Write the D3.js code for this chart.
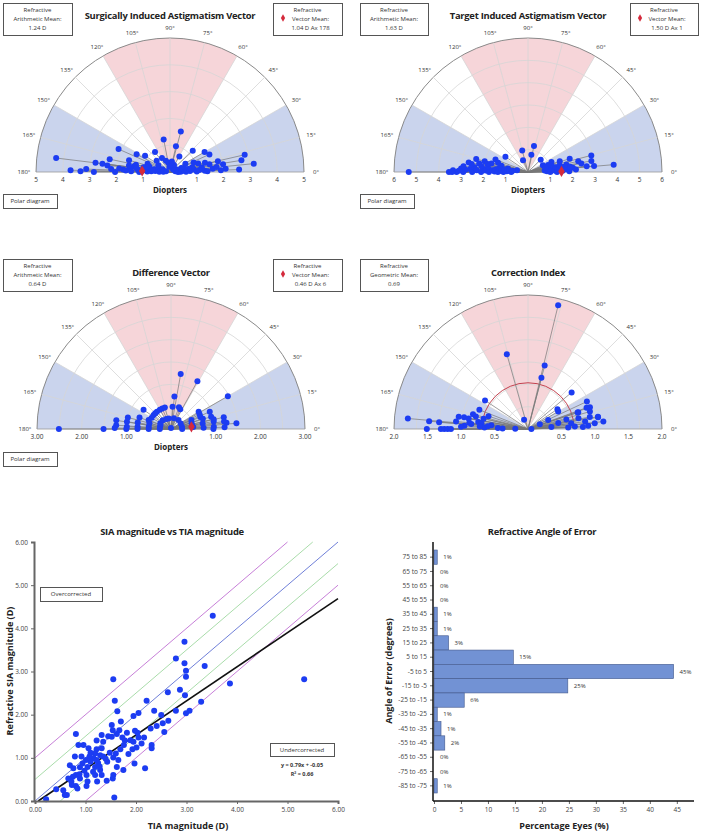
<!DOCTYPE html>
<html>
<head>
<meta charset="utf-8">
<script src="https://cdn.jsdelivr.net/npm/d3@7"></script>
<style>
body { margin: 0; background: #fff; }
text { font-family: "Open Sans", sans-serif; fill: #333; }
.title { font-weight: bold; font-size: 9.4px; letter-spacing: -0.25px; fill: #222; text-anchor: middle; }
.axisTitle { font-weight: bold; font-size: 9px; fill: #222; text-anchor: middle; }
.small { font-size: 6px; fill: #333; }
.tick text { font-size: 6.5px; fill: #444; font-family: "Open Sans", sans-serif; }
.box { fill: #fff; stroke: #555; stroke-width: 1; }
</style>
</head>
<body>
<svg id="chart" width="702" height="837"></svg>
<script>
// ---- polar data: [magnitude, axis in degrees]
var siaPoints = [[4.28,173],[3.71,179],[3.34,179.5],[3.13,178],[2.84,180],[2.80,173],[2.54,173],[2.35,174],[2.30,168],[2.05,180],
  [2.10,156],[1.75,177],[1.59,164],[1.35,171],[1.41,152],[1.15,180],[1.11,147],[0.89,160],[0.93,127],[1.24,101],
  [1.9,176],[1.65,178],[1.5,175],[1.45,179],[1.2,176],[1.05,178],[0.95,175],[0.85,179],[0.75,172],[0.7,178],
  [0.6,170],[0.55,176],[0.45,165],[0.4,178],[0.35,170],[0.3,160],[0.25,178],[0.5,150],[0.65,140],[0.8,165],
  [1.3,168],[1.0,170],[0.9,168],[0.6,120],[0.45,110],[0.35,100],
  [1.56,75],[0.99,77],[0.68,59],[1.16,43],[1.49,30],[1.61,24],[2.86,13],[3.14,5.7],[2.70,9.3],[2.58,2],
  [2.08,3.4],[2.0,8.3],[1.83,12.6],[1.60,4.5],[1.3,2],[1.2,8],[1.1,4],[1.0,1],[0.9,6],[0.85,12],
  [0.75,3],[0.7,9],[0.6,1],[0.55,14],[0.5,5],[0.45,20],[0.4,2],[0.35,10],[0.3,0],[0.25,25],
  [0.2,8],[0.15,40],[0.3,60],[0.4,80],[0.2,95],[1.4,1],[1.75,6],[1.9,2],[1.5,11],[1.35,15],
  [1.1,17],[0.95,22],[0.65,28],[1.25,174],[1.55,171],[2.2,177],[0.65,174],[0.15,170]];
var tiaPoints = [[5.34,180],[3.54,180],[3.36,178.7],[3.0,177],[2.69,171],[2.39,166],[2.22,170],[2.0,166],[1.68,167],[1.56,159],
  [1.22,146],[1.22,167],[0.91,170],[0.5,171],[3.2,180],[3.1,179],[2.9,180],[2.8,178],[2.6,177],[2.5,180],
  [2.4,175],[2.3,178],[2.1,180],[2.0,176],[1.9,178],[1.8,174],[1.75,180],[1.6,177],[1.5,179],[1.45,175],
  [1.35,180],[1.3,172],[1.2,178],[1.1,180],[1.05,174],[0.95,178],[0.85,176],[0.75,180],[0.7,175],[2.55,172],
  [2.1,173],[1.85,169],[1.4,163],[2.9,175],[3.4,180],
  [1.0,105],[0.57,113],[0.79,79],[1.19,77],
  [0.79,44],[0.73,24],[1.14,23],[1.5,18.6],[1.96,17.7],[2.42,9],[2.93,14.7],[2.88,9.9],[2.97,5.2],[3.85,4.9],
  [2.02,5.5],[2.64,5.6],[0.75,5],[0.85,2],[0.9,10],[1.0,0],[1.05,7],[1.1,14],[1.2,3],[1.25,10],
  [1.3,0],[1.4,5],[1.45,12],[1.55,2],[1.6,8],[1.7,4],[1.75,11],[1.85,1],[1.9,7],[2.15,3],
  [2.3,12],[0.95,19],[0.8,15]];
var diffPoints = [[2.51,180],[1.51,180],[1.24,171],[1.23,176],[1.26,179],[1.0,170.5],[0.99,177],[0.76,169],[0.75,176],[0.75,145],
  [0.54,158],[0.50,174],[0.50,141],[0.50,129],[0.50,113],[0.50,106],[0.27,152],[0.27,133],[0.24,102],[0.02,90],
  [0.50,86],[0.73,84],[1.25,80],[1.22,61],[0.49,65],[0.26,50],[0.25,12],[0.5,24],[0.48,11],[0.73,32],
  [0.71,22],[0.72,10],[0.73,2],[0.95,24],[0.94,17],[0.97,10],[0.96,3],[1.21,12.5],[1.25,6.5],[1.47,30],
  [1.47,5],[0.5,165],[0.5,150],[0.5,180],[0.25,170],[0.25,160],[0.25,115],[0.25,30],[0.25,75],[0.5,120],
  [0.52,70],[0.75,160],[0.75,180],[1.0,180],[1.0,165],[0.75,18],[0.95,0],[1.2,2],[0.5,5],[0.25,0],
  [0.25,180],[0.48,17],[0.72,27],[0.98,13],[1.2,8],[0.5,135]];
var ciPoints = [[1.90,76.3],[1.16,105.8],[0.98,75.3],[0.79,75.3],[0.15,113],[0.77,146.4],[0.85,40],[0.97,25],[0.98,19.4],[1.06,9.5],
  [1.13,5.6],[0.53,34],[0.79,18.4],[1.80,175],[1.48,175.5],[1.33,175.7],[1.51,180],[1.3,180],[1.25,180],[1.2,180],
  [1.15,180],[1.05,170],[0.97,169.6],[0.88,174],[0.80,166.6],[0.78,158.5],[0.75,172],[0.7,173],[0.68,167],[0.55,174],
  [0.45,178],[0.38,179],[0.19,179],[0.05,0],[0.19,22],[0.33,24],[0.35,5],[0.46,11],[0.59,14],[0.65,7.5],
  [0.77,12],[0.86,7.4],[0.94,11],[0.96,15.7],[1.06,10],[0.93,20],[0.78,18.3],[0.52,30],[0.7,3],[0.6,2],
  [0.82,2],[0.9,3],[1.0,5],[0.85,175],[0.95,177],[1.0,178],[1.08,174],[0.9,170],[0.65,178],[0.6,176],
  [0.72,177],[0.85,165],[0.62,162]];

var degreeTicks = [0,15,30,45,60,75,90,105,120,135,150,165,180];
var siaRings = [1,2,3,4,5];
var tiaRings = [1,2,3,4,5,6];
var diffRings = [0.5,1,1.5,2,2.5,3];
var ciRings = [0.333,0.667,1,1.333,1.667,2];
var siaTicks = [1,2,3,4,5];
var tiaTicks = [1,2,3,4,5,6];
var diffTicks = [1,2,3];
var ciTicks = [0.5,1,1.5,2];

// ---- SIA vs TIA scatter
var tiaMag = [3.52,2.96,2.79,2.96,3.36,1.55,5.33,3.86,3.29,2.99,2.99,2.87,2.63,2.97,2.79,3.06,2.99,2.21,1.58,1.63,
  2.05,2.36,2.50,2.64,2.53,2.41,2.29,2.56,1.70,1.54,1.67,1.82,1.98,2.03,2.16,2.05,1.52,1.73,1.89,1.95,
  2.11,2.31,2.31,1.76,1.69,1.93,1.60,1.85,1.55,1.65,1.97,2.18,1.62,1.75,1.55,1.42,1.54,1.57,1.35,1.22,
  1.32,1.22,1.19,1.29,1.16,1.10,1.22,1.06,0.96,0.86,0.81,0.79,1.01,0.94,1.04,0.89,0.76,0.81,0.75,0.89,
  1.02,1.19,1.29,1.19,1.23,1.32,0.66,0.73,0.81,0.84,1.02,1.04,0.56,0.59,0.63,0.42,0.22,1.32,1.45,1.62,
  1.52,1.95,2.01,1.35,1.43,0.92,0.69,1.10,1.08,1.40,1.25,0.98,0.88,0.72,1.15,1.28,1.48,1.78];
var siaMag = [4.29,3.69,3.30,3.19,3.13,2.82,2.82,2.72,2.30,3.02,2.88,2.58,2.52,2.45,2.09,2.09,2.03,2.32,2.32,2.08,
  2.04,2.09,1.99,1.86,1.80,1.74,1.68,1.60,1.84,1.64,1.64,1.58,1.63,1.58,1.47,1.47,1.49,1.47,1.41,1.37,
  1.33,1.30,1.22,1.30,1.20,1.20,1.10,1.09,1.01,0.95,0.87,0.76,0.79,0.72,0.60,0.47,0.52,0.08,1.37,1.40,
  1.22,1.20,1.10,1.06,0.99,0.91,0.95,1.22,1.30,1.30,1.55,1.03,0.95,0.87,0.79,0.78,0.76,0.60,0.56,0.52,
  0.60,0.79,0.72,0.60,0.45,0.60,0.52,0.37,0.35,0.29,0.35,0.45,0.25,0.14,0.14,0.27,0.04,1.53,1.50,1.55,
  1.76,1.97,1.24,1.03,0.91,1.03,0.83,1.12,1.03,0.98,0.88,0.70,0.62,0.45,0.68,0.80,1.12,1.40];
var refOffsets = [1, 0.5, 0, -0.5, -1];
var refColors = ["#c77fd8", "#a9dcaa", "#6f7fd8", "#a9dcaa", "#c77fd8"];
var regSlope = 0.79, regIntercept = -0.05;
var scatterTicks = [0,1,2,3,4,5,6];

// ---- angle of error histogram
var errorBins = ["75 to 85","65 to 75","55 to 65","45 to 55","35 to 45","25 to 35","15 to 25","5 to 15","-5 to 5",
  "-15 to -5","-25 to -15","-35 to -25","-45 to -35","-55 to -45","-65 to -55","-75 to -65","-85 to -75"];
var errorPct = [0.6,0,0,0,0.6,0.6,2.7,14.7,44.4,24.8,5.6,0.6,1.3,2.0,0,0,0.6];
var errorLabels = ["1%","0%","0%","0%","1%","1%","3%","15%","45%","25%","6%","1%","1%","2%","0%","0%","1%"];
var pctTicks = [0,5,10,15,20,25,30,35,40,45];

var svg = d3.select('#chart');
var R = 134;
var rad = function (deg) { return deg * Math.PI / 180; };

var drawBox = function (x, y, w, h, lines, diamond) {
    svg.append('rect').attr('class', 'box')
        .attr('x', x + 0.5).attr('y', y + 0.5).attr('width', w).attr('height', h);
    lines.forEach(function (t, i) {
        svg.append('text').attr('class', 'small')
            .attr('x', x + w / 2 + (diamond && i > 0 ? 3 : 0))
            .attr('y', y + 9 + i * 9)
            .attr('text-anchor', 'middle')
            .text(t);
    });
    if (diamond) {
        svg.append('path')
            .attr('d', d3.symbol(d3.symbolDiamond, 16)())
            .attr('transform', 'translate(' + (x + 10) + ',' + (y + 15) + ')')
            .attr('fill', '#d42a3c');
    }
}

var drawPolar = function (o) {
    var g = svg.append('g').attr('transform', 'translate(' + o.cx + ',' + o.cy + ')');
    var r = d3.scaleLinear().domain([0, o.max]).range([0, R]);
    var arc = d3.arc();
    var px = function (d) { return r(d[0]) * Math.cos(rad(d[1])); };
    var py = function (d) { return -r(d[0]) * Math.sin(rad(d[1])); };

    // coloured sectors
    [[0, 30, '#cad4ed'], [150, 180, '#cad4ed'], [60, 120, '#f6d5d9']].forEach(function (s) {
        g.append('path')
            .attr('d', arc({ innerRadius: 0, outerRadius: R,
                startAngle: rad(90 - s[1]), endAngle: rad(90 - s[0]) }))
            .attr('fill', s[2]);
    });

    // rings
    o.rings.forEach(function (v) {
        var p = d3.path();
        p.moveTo(-r(v), 0);
        p.arc(0, 0, r(v), Math.PI, 2 * Math.PI);
        g.append('path').attr('d', p.toString())
            .attr('fill', 'none')
            .attr('stroke', v == o.max ? '#8a8a8a' : '#d6d6d6')
            .attr('stroke-width', v == o.max ? 1 : 0.8);
    });

    // spokes
    degreeTicks.forEach(function (a) {
        g.append('line')
            .attr('x1', 0).attr('y1', 0)
            .attr('x2', px([o.max, a])).attr('y2', py([o.max, a]))
            .attr('stroke', a == 0 || a == 180 ? '#9a9a9a' : '#d6d6d6')
            .attr('stroke-width', 0.8);
        g.append('text').attr('class', 'small')
            .attr('x', (R + 12) * Math.cos(rad(a)))
            .attr('y', -(R + 10) * Math.sin(rad(a)))
            .attr('dy', '0.35em')
            .attr('text-anchor', 'middle')
            .text(a + '\u00b0');
    });

    // magnitude labels along the base line
    o.ticks.forEach(function (v) {
        [-1, 1].forEach(function (side) {
            g.append('text').attr('class', 'small')
                .style('font-size', '6.5px')
                .attr('x', side * r(v))
                .attr('y', 10)
                .attr('text-anchor', 'middle')
                .text(o.fmt(v));
        });
    });

    if (o.meanArc) {
        var p = d3.path();
        p.moveTo(-r(o.meanArc), 0);
        p.arc(0, 0, r(o.meanArc), Math.PI, 2 * Math.PI);
        g.append('path').attr('d', p.toString())
            .attr('fill', 'none').attr('stroke', '#c2424f').attr('stroke-width', 1);
    }

    g.selectAll('line.pt')
        .data(o.points)
        .enter().append('line')
        .attr('class', 'pt')
        .attr('x1', 0).attr('y1', 0)
        .attr('x2', px).attr('y2', py)
        .attr('stroke', '#777')
        .attr('stroke-width', 0.7);

    g.selectAll('circle')
        .data(o.points)
        .enter().append('circle')
        .attr('cx', px).attr('cy', py)
        .attr('r', 3)
        .attr('fill', '#1c3cf2');

    if (o.mean) {
        g.append('path')
            .attr('d', d3.symbol(d3.symbolDiamond, 36)())
            .attr('transform', 'translate(' + px(o.mean) + ',' + py(o.mean) + ')')
            .attr('fill', '#d42a3c');
    }

    svg.append('text').attr('class', 'title')
        .attr('x', o.cx).attr('y', o.cy - 153)
        .text(o.title);

    if (o.diopters) {
        svg.append('text').attr('class', 'axisTitle')
            .style('font-size', '8px')
            .attr('x', o.cx).attr('y', o.cy + 21)
            .text('Diopters');
    }
}

var fmtInt = function (v) { return v; };

drawPolar({ cx: 170, cy: 172, max: 5, rings: siaRings, ticks: siaTicks, fmt: fmtInt,
    points: siaPoints, mean: [1.04, 178], title: 'Surgically Induced Astigmatism Vector', diopters: true });
drawBox(3, 3, 69, 32, ['Refractive', 'Arithmetic Mean:', '1.24 D']);
drawBox(273, 3, 69, 32, ['Refractive', 'Vector Mean:', '1.04 D Ax 178'], true);
drawBox(3, 194, 54, 14, ['Polar diagram']);

drawPolar({ cx: 528, cy: 172, max: 6, rings: tiaRings, ticks: tiaTicks, fmt: fmtInt,
    points: tiaPoints, mean: [1.50, 1], title: 'Target Induced Astigmatism Vector', diopters: true });
drawBox(360, 3, 68, 32, ['Refractive', 'Arithmetic Mean:', '1.63 D']);
drawBox(630, 3, 68, 32, ['Refractive', 'Vector Mean:', '1.50 D Ax 1'], true);
drawBox(360, 194, 54, 14, ['Polar diagram']);

drawPolar({ cx: 171, cy: 429, max: 3, rings: diffRings, ticks: diffTicks, fmt: d3.format('.2f'),
    points: diffPoints, mean: [0.46, 6], title: 'Difference Vector', diopters: true });
drawBox(3, 259, 69, 32, ['Refractive', 'Arithmetic Mean:', '0.64 D']);
drawBox(273, 259, 69, 32, ['Refractive', 'Vector Mean:', '0.46 D Ax 6'], true);
drawBox(3, 452, 54, 14, ['Polar diagram']);

drawPolar({ cx: 528, cy: 429, max: 2, rings: ciRings, ticks: ciTicks, fmt: d3.format('.1f'),
    points: ciPoints, meanArc: 0.69, title: 'Correction Index', diopters: false });
drawBox(360, 259, 68, 32, ['Refractive', 'Geometric Mean:', '0.69']);

// ---- scatter: SIA vs TIA magnitude
var sx = d3.scaleLinear().domain([0, 6]).range([35, 338]);
var sy = d3.scaleLinear().domain([0, 6]).range([801, 542]);

refOffsets.forEach(function (off, i) {
    var x0 = Math.max(0, -off), x1 = Math.min(6, 6 - off);
    svg.append('line')
        .attr('x1', sx(x0)).attr('y1', sy(x0 + off))
        .attr('x2', sx(x1)).attr('y2', sy(x1 + off))
        .attr('stroke', refColors[i]).attr('stroke-width', 1);
});

var regX0 = -regIntercept / regSlope;
svg.append('line')
    .attr('x1', sx(regX0)).attr('y1', sy(0))
    .attr('x2', sx(6)).attr('y2', sy(6 * regSlope + regIntercept))
    .attr('stroke', '#111').attr('stroke-width', 1.6);

svg.selectAll('circle.sc')
    .data(tiaMag)
    .enter().append('circle')
    .attr('class', 'sc')
    .attr('cx', function (d) { return sx(d); })
    .attr('cy', function (d, i) { return sy(siaMag[i]); })
    .attr('r', 3)
    .attr('fill', '#1c3cf2');

var gy = svg.append('g').attr('transform', 'translate(34,0)')
    .call(d3.axisLeft(sy).tickValues(scatterTicks).tickFormat(d3.format('.2f')).tickSize(3));
var gx = svg.append('g').attr('transform', 'translate(0,801)')
    .call(d3.axisBottom(sx).tickValues(scatterTicks).tickFormat(d3.format('.2f')).tickSize(3));
[gx, gy].forEach(function (a) {
    a.select('.domain').attr('stroke', '#666').attr('stroke-width', 2);
    a.selectAll('.tick line').attr('stroke', '#666');
});

svg.append('text').attr('class', 'title').attr('x', 172).attr('y', 535)
    .text('SIA magnitude vs TIA magnitude');
svg.append('text').attr('class', 'axisTitle').attr('x', 188).attr('y', 829)
    .text('TIA magnitude (D)');
svg.append('text').attr('class', 'axisTitle')
    .attr('transform', 'translate(13,671) rotate(-90)')
    .text('Refractive SIA magnitude (D)');

drawBox(40, 587, 62, 14, ['Overcorrected']);
drawBox(270, 743, 64, 13, ['Undercorrected']);
svg.append('text').attr('class', 'small').style('font-weight', 'bold').style('font-size', '5.5px')
    .attr('x', 302).attr('y', 767).attr('text-anchor', 'middle')
    .text('y = ' + regSlope + 'x + ' + regIntercept);
svg.append('text').attr('class', 'small').style('font-weight', 'bold').style('font-size', '5.5px')
    .attr('x', 302).attr('y', 776).attr('text-anchor', 'middle')
    .text('R\u00b2 = 0.66');

// ---- histogram: refractive angle of error
var hx = d3.scaleLinear().domain([0, 48]).range([434, 693]);
var hy = d3.scaleBand().domain(errorBins).range([550, 793]).padding(0);

svg.selectAll('rect.bar')
    .data(errorPct)
    .enter().append('rect')
    .attr('class', 'bar')
    .attr('x', hx(0))
    .attr('y', function (d, i) { return hy(errorBins[i]); })
    .attr('width', function (d) { return hx(d) - hx(0); })
    .attr('height', hy.bandwidth())
    .attr('fill', '#7292d4')
    .attr('stroke', function (d) { return d > 0 ? '#43598c' : 'none'; })
    .attr('stroke-width', 0.6);

svg.selectAll('text.pct')
    .data(errorLabels)
    .enter().append('text')
    .attr('class', 'small pct')
    .attr('x', function (d, i) { return hx(errorPct[i]) + 6; })
    .attr('y', function (d, i) { return hy(errorBins[i]) + hy.bandwidth() / 2; })
    .attr('dy', '0.35em')
    .text(function (d) { return d; });

var hgy = svg.append('g').attr('transform', 'translate(433,0)')
    .call(d3.axisLeft(hy).tickSize(3));
hgy.select('.domain').remove();
svg.append('line').attr('x1', 433).attr('x2', 433).attr('y1', 542).attr('y2', 801)
    .attr('stroke', '#111').attr('stroke-width', 1.5);
var hgx = svg.append('g').attr('transform', 'translate(0,801)')
    .call(d3.axisBottom(hx).tickValues(pctTicks).tickSize(3));
hgx.select('.domain').remove();
svg.append('line').attr('x1', 433).attr('x2', 694).attr('y1', 801).attr('y2', 801)
    .attr('stroke', '#111').attr('stroke-width', 1.5);
[hgx, hgy].forEach(function (a) {
    a.selectAll('.tick line').attr('stroke', '#666');
});

svg.append('text').attr('class', 'title').attr('x', 542).attr('y', 535)
    .text('Refractive Angle of Error');
svg.append('text').attr('class', 'axisTitle').attr('x', 564).attr('y', 829)
    .text('Percentage Eyes (%)');
svg.append('text').attr('class', 'axisTitle')
    .attr('transform', 'translate(392,671) rotate(-90)')
    .text('Angle of Error (degrees)');
</script>
</body>
</html>
